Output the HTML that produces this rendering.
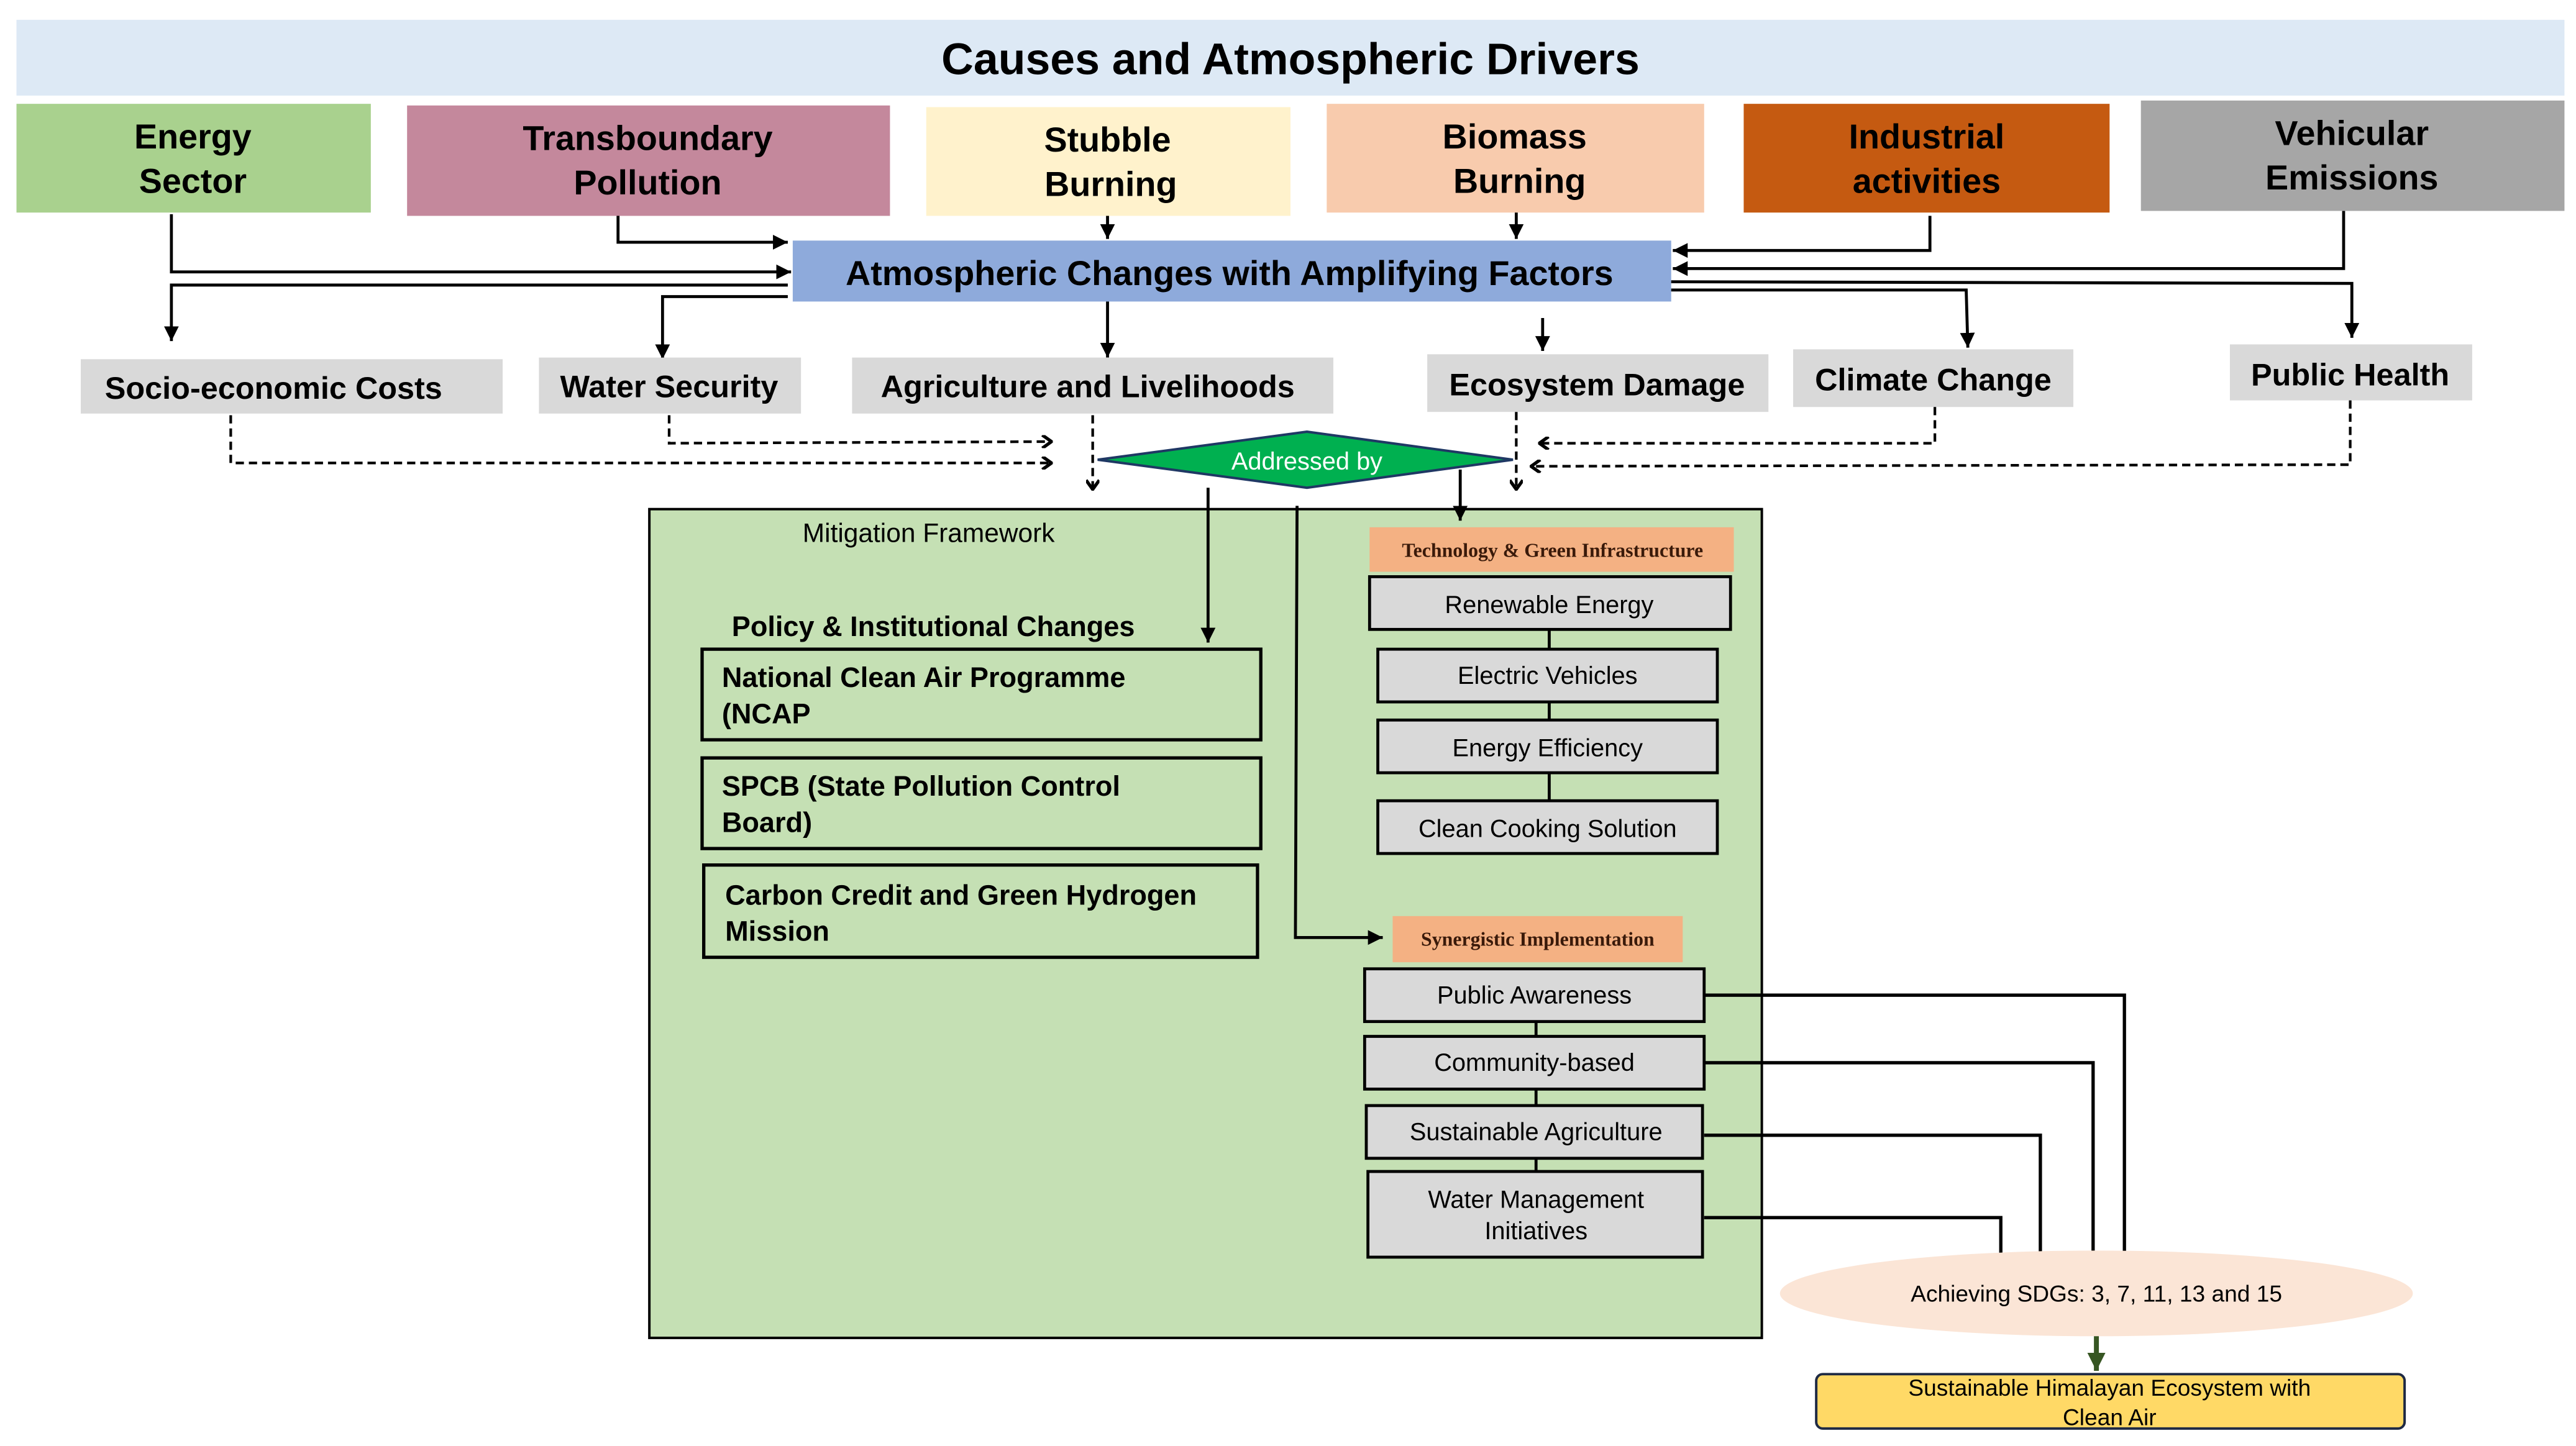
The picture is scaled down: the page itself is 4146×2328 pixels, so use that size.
<!DOCTYPE html>
<html><head><meta charset="utf-8"><style>
html,body{margin:0;padding:0;background:#fff;}
svg{display:block;}
text{font-family:"Liberation Sans",Arial,sans-serif;}
</style></head><body>
<svg width="4146" height="2328" viewBox="0 0 1563 877.6" xmlns="http://www.w3.org/2000/svg">
<defs>
<marker id="a" viewBox="0 0 10 10" refX="10" refY="5" markerWidth="9" markerHeight="9" markerUnits="userSpaceOnUse" orient="auto"><path d="M0,0 L10,5 L0,10 z" fill="#000"/></marker>
<marker id="o" viewBox="0 0 10 10" refX="9" refY="5" markerWidth="8" markerHeight="8" markerUnits="userSpaceOnUse" orient="auto"><path d="M2,0 L9,5 L2,10" fill="none" stroke="#000" stroke-width="2.5"/></marker>
<marker id="g" viewBox="0 0 10 10" refX="10" refY="5" markerWidth="11" markerHeight="11" markerUnits="userSpaceOnUse" orient="auto"><path d="M0,0 L10,5 L0,10 z" fill="#375623"/></marker>
</defs>
<rect width="1563" height="877.6" fill="#fff"/>
<!-- title -->
<rect x="10" y="12" width="1546" height="46" fill="#dde9f5"/>
<text x="783" y="45" font-size="27" font-weight="bold" text-anchor="middle">Causes and Atmospheric Drivers</text>
<!-- causes -->
<g font-size="21" font-weight="bold" text-anchor="middle">
<rect x="10" y="63" width="215" height="66" fill="#a9d18e"/>
<text x="117" y="90">Energy</text><text x="117" y="117">Sector</text>
<rect x="247" y="64" width="293" height="67" fill="#c4889c"/>
<text x="393" y="91">Transboundary</text><text x="393" y="118">Pollution</text>
<rect x="562" y="65" width="221" height="66" fill="#fff2cc"/>
<text x="672" y="92">Stubble</text><text x="674" y="119">Burning</text>
<rect x="805" y="63" width="229" height="66" fill="#f8cbad"/>
<text x="919" y="90">Biomass</text><text x="922" y="117">Burning</text>
<rect x="1058" y="63" width="222" height="66" fill="#c55a11"/>
<text x="1169" y="90">Industrial</text><text x="1169" y="117">activities</text>
<rect x="1299" y="61" width="257" height="67" fill="#a6a6a6"/>
<text x="1427" y="88">Vehicular</text><text x="1427" y="115">Emissions</text>
</g>
<!-- atmospheric box -->
<rect x="481" y="146" width="533" height="37" fill="#8eaadb"/>
<text x="746" y="173" font-size="21" font-weight="bold" text-anchor="middle">Atmospheric Changes with Amplifying Factors</text>
<!-- cause arrows -->
<g fill="none" stroke="#000" stroke-width="1.8">
<polyline points="104,130 104,165 480,165" marker-end="url(#a)"/>
<polyline points="375,131 375,147 478,147" marker-end="url(#a)"/>
<line x1="672" y1="131" x2="672" y2="145" marker-end="url(#a)"/>
<line x1="920" y1="129" x2="920" y2="145" marker-end="url(#a)"/>
<polyline points="1171,131 1171,152 1015,152" marker-end="url(#a)"/>
<polyline points="1422,128 1422,163 1015,163" marker-end="url(#a)"/>
<!-- effect arrows -->
<polyline points="478,173 104,173 104,207" marker-end="url(#a)"/>
<polyline points="478,180 402,180 402,218" marker-end="url(#a)"/>
<line x1="672" y1="183" x2="672" y2="217" marker-end="url(#a)"/>
<line x1="936" y1="193" x2="936" y2="213" marker-end="url(#a)"/>
<polyline points="1014,176 1193,176 1194,211" marker-end="url(#a)"/>
<polyline points="1014,171 1427,172 1427,205" marker-end="url(#a)"/>
</g>
<!-- effect boxes -->
<g font-size="19" font-weight="bold" text-anchor="middle" fill="#d9d9d9">
<rect x="49" y="218" width="256" height="33"/>
<rect x="327" y="217" width="159" height="34"/>
<rect x="517" y="217" width="292" height="34"/>
<rect x="866" y="215" width="207" height="35"/>
<rect x="1088" y="212" width="170" height="35"/>
<rect x="1353" y="209" width="147" height="34"/>
</g>
<g font-size="19" font-weight="bold" text-anchor="middle">
<text x="166" y="242">Socio-economic Costs</text>
<text x="406" y="241">Water Security</text>
<text x="660" y="241">Agriculture and  Livelihoods</text>
<text x="969" y="240">Ecosystem Damage</text>
<text x="1173" y="237">Climate Change</text>
<text x="1426" y="234">Public Health</text>
</g>
<!-- dashed -->
<g fill="none" stroke="#000" stroke-width="1.6" stroke-dasharray="5,3">
<polyline points="140,252 140,281 638,281" marker-end="url(#o)"/>
<polyline points="406,252 406,269 638,268" marker-end="url(#o)"/>
<polyline points="663,252 663,297" marker-end="url(#o)"/>
<polyline points="920,250 920,297" marker-end="url(#o)"/>
<polyline points="1174,247 1174,269 934,269" marker-end="url(#o)"/>
<polyline points="1426,243 1426,282 929,283" marker-end="url(#o)"/>
</g>
<!-- mitigation framework -->
<rect x="394" y="309" width="675" height="503" fill="#c5e0b4" stroke="#000" stroke-width="1.5"/>
<text x="487" y="329" font-size="16">Mitigation Framework</text>
<!-- diamond -->
<polygon points="666,279 793,262 918,279 793,296" fill="#00b050" stroke="#1f3864" stroke-width="1.5"/>
<text x="793" y="285" font-size="15" fill="#fff" text-anchor="middle">Addressed by</text>
<g fill="none" stroke="#000" stroke-width="1.8">
<line x1="733" y1="296" x2="733" y2="390" marker-end="url(#a)"/>
<line x1="886" y1="285" x2="886" y2="316" marker-end="url(#a)"/>
<polyline points="787,307 786,569 839,569" marker-end="url(#a)"/>
</g>
<!-- policy -->
<text x="444" y="386" font-size="17" font-weight="bold">Policy &amp; Institutional Changes</text>
<g fill="none" stroke="#000" stroke-width="2">
<rect x="426" y="394" width="339" height="55"/>
<rect x="426" y="460" width="339" height="55"/>
<rect x="427" y="525" width="336" height="56"/>
</g>
<g font-size="17" font-weight="bold">
<text x="438" y="417">National Clean Air Programme</text><text x="438" y="439">(NCAP</text>
<text x="438" y="483">SPCB (State Pollution Control</text><text x="438" y="505">Board)</text>
<text x="440" y="549">Carbon Credit and Green Hydrogen</text><text x="440" y="571">Mission</text>
</g>
<!-- tech -->
<rect x="831" y="320" width="221" height="27" fill="#f4b183"/>
<text x="942" y="338" font-size="12" font-weight="bold" text-anchor="middle" fill="#3a1a0a" font-family="Liberation Serif,serif" style="font-family:'Liberation Serif',serif">Technology &amp; Green Infrastructure</text>
<g stroke="#000" stroke-width="1.8">
<line x1="940" y1="382" x2="940" y2="486"/>
<line x1="932" y1="620" x2="932" y2="711"/>
</g>
<g fill="#d9d9d9" stroke="#000" stroke-width="1.8">
<rect x="831" y="350" width="219" height="32"/>
<rect x="836" y="394" width="206" height="32"/>
<rect x="836" y="437" width="206" height="32"/>
<rect x="836" y="486" width="206" height="32"/>
</g>
<g font-size="15" text-anchor="middle">
<text x="940" y="372">Renewable Energy</text>
<text x="939" y="415">Electric Vehicles</text>
<text x="939" y="459">Energy Efficiency</text>
<text x="939" y="508">Clean Cooking Solution</text>
</g>
<!-- synergistic -->
<rect x="845" y="556" width="176" height="28" fill="#f4b183"/>
<text x="933" y="574" font-size="12" font-weight="bold" text-anchor="middle" fill="#3a1a0a" style="font-family:'Liberation Serif',serif">Synergistic Implementation</text>
<g fill="#d9d9d9" stroke="#000" stroke-width="1.8">
<rect x="828" y="588" width="206" height="32"/>
<rect x="828" y="629" width="206" height="32"/>
<rect x="829" y="671" width="204" height="32"/>
<rect x="830" y="711" width="203" height="52"/>
</g>
<g font-size="15" text-anchor="middle">
<text x="931" y="609">Public Awareness</text>
<text x="931" y="650">Community-based</text>
<text x="932" y="692">Sustainable Agriculture</text>
<text x="932" y="733">Water Management</text>
<text x="932" y="752">Initiatives</text>
</g>
<!-- lines to SDG -->
<g fill="none" stroke="#000" stroke-width="2">
<polyline points="1034,604 1289,604 1289,762"/>
<polyline points="1034,645 1270,645 1270,762"/>
<polyline points="1034,689 1238,689 1238,762"/>
<polyline points="1034,739 1214,739 1214,762"/>
</g>
<ellipse cx="1272" cy="785" rx="192" ry="26" fill="#fbe5d6"/>
<text x="1272" y="790" font-size="14" text-anchor="middle">Achieving SDGs: 3, 7, 11, 13 and 15</text>
<line x1="1272" y1="811" x2="1272" y2="832" stroke="#375623" stroke-width="3" marker-end="url(#g)"/>
<rect x="1102" y="834" width="357" height="33" rx="4" fill="#ffd966" stroke="#1f2a44" stroke-width="1.5"/>
<text x="1280" y="847" font-size="14" text-anchor="middle">Sustainable Himalayan Ecosystem with</text>
<text x="1280" y="865" font-size="14" text-anchor="middle">Clean Air</text>
</svg>
</body></html>
